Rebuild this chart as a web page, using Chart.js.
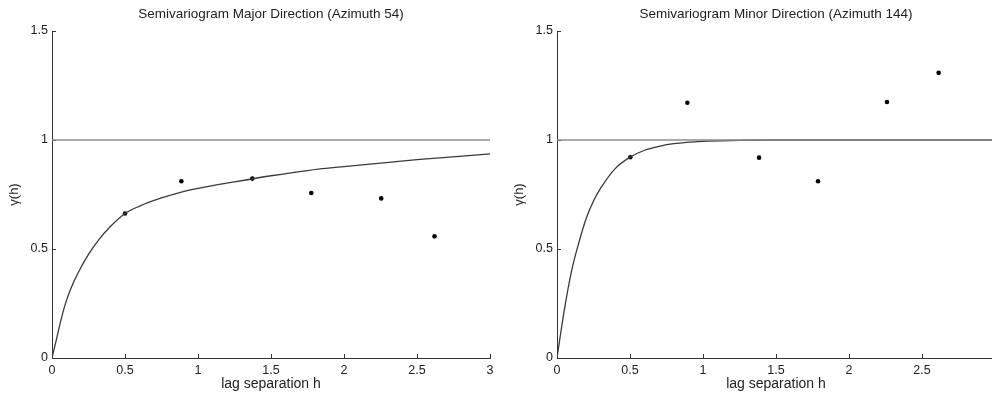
<!DOCTYPE html>
<html>
<head>
<meta charset="utf-8">
<script src="https://cdn.jsdelivr.net/npm/chart.js@4/dist/chart.umd.min.js"></script>
<style>
  html, body { margin: 0; padding: 0; background: #fff; overflow: hidden; }
  #wrap { position: relative; width: 992px; height: 398px; overflow: hidden; }
  canvas { position: absolute; top: 0; }
  #majorChart { left: 0; }
  #minorChart { left: 505px; }
</style>
</head>
<body>
<div id="wrap">
  <canvas id="majorChart" width="496" height="398"></canvas>
  <canvas id="minorChart" width="496" height="398"></canvas>
</div>
<script>
// experimental semivariogram points
const lagMajor = [0.5, 0.886, 1.372, 1.776, 2.255, 2.62];
const gammaMajor = [0.663, 0.811, 0.823, 0.757, 0.732, 0.558];
const lagMinor = [0.502, 0.893, 1.384, 1.788, 2.26, 2.614];
const gammaMinor = [0.921, 1.171, 0.919, 0.811, 1.174, 1.308];

// fitted model curves
const modelLagMajor = [0, 0.03, 0.06, 0.09, 0.13, 0.18, 0.25, 0.32, 0.4, 0.5, 0.6, 0.75, 0.88, 1, 1.25, 1.5, 1.75, 2, 2.5, 3];
const modelGammaMajor = [0, 0.084, 0.17, 0.245, 0.32, 0.392, 0.475, 0.542, 0.603, 0.663, 0.697, 0.734, 0.76, 0.778, 0.808, 0.836, 0.86, 0.878, 0.91, 0.936];
const modelLagMinor = [0, 0.05, 0.1, 0.15, 0.2, 0.25, 0.3, 0.4, 0.5, 0.6, 0.7, 0.8, 1, 1.25, 1.5, 2, 3];
const modelGammaMinor = [0, 0.22, 0.40, 0.53, 0.64, 0.72, 0.78, 0.87, 0.921, 0.953, 0.971, 0.983, 0.994, 0.998, 1, 1, 1];

// sill line
const sillLag = [0, 3];
const sillGamma = [1, 1];

// axis ticks
const xTicks = [0, 0.5, 1, 1.5, 2, 2.5, 3];
const yTicks = [0, 0.5, 1, 1.5];

Chart.defaults.font.family = '"Liberation Sans", Arial, Helvetica, sans-serif';
Chart.defaults.color = '#222';

const pts = (xs, ys) => xs.map((x, i) => ({ x: x, y: ys[i] }));

function drawVariogram(id, title, lags, gammas, modelLags, modelGammas) {
    const ctx = document.getElementById(id).getContext('2d');
    return new Chart(ctx, {
        type: 'scatter',
        data: {
            datasets: [
                {
                    data: pts(sillLag, sillGamma),
                    showLine: true,
                    borderColor: '#8c8c8c',
                    borderWidth: 1.5,
                    pointRadius: 0
                },
                {
                    data: pts(modelLags, modelGammas),
                    showLine: true,
                    borderColor: '#3a3a3a',
                    borderWidth: 1.3,
                    pointRadius: 0,
                    cubicInterpolationMode: 'monotone'
                },
                {
                    data: pts(lags, gammas),
                    showLine: false,
                    pointRadius: 2.3,
                    pointBackgroundColor: '#000',
                    pointBorderWidth: 0
                }
            ]
        },
        options: {
            responsive: false,
            animation: false,
            layout: { padding: { left: 0, right: 6, top: 0, bottom: 0 } },
            plugins: {
                legend: { display: false },
                tooltip: { enabled: false },
                title: {
                    display: true,
                    text: title,
                    fullSize: false,
                    color: '#222',
                    font: { size: 13.5, weight: 'normal' },
                    padding: { top: 6, bottom: 8.8 }
                }
            },
            scales: {
                x: {
                    type: 'linear',
                    min: 0, max: 3,
                    afterBuildTicks: s => { s.ticks = xTicks.map(v => ({ value: v })); },
                    afterFit: s => { s.height = 40; s.paddingLeft = 0; s.paddingRight = 0; },
                    grid: { drawOnChartArea: false, tickLength: -4, color: '#333' },
                    border: { color: '#333', width: 1 },
                    ticks: { padding: 9, font: { size: 12.5 }, color: '#222', maxRotation: 0, callback: v => String(v) },
                    title: { display: true, text: 'lag separation h', font: { size: 14 }, color: '#222', padding: { top: 0, bottom: 5 } }
                },
                y: {
                    type: 'linear',
                    min: 0, max: 1.5,
                    afterBuildTicks: s => { s.ticks = yTicks.map(v => ({ value: v })); },
                    afterFit: s => { s.width = 52; s.paddingTop = 0; s.paddingBottom = 0; },
                    grid: { drawOnChartArea: false, tickLength: -4, color: '#333' },
                    border: { color: '#333', width: 1 },
                    ticks: { padding: 8, font: { size: 12.5 }, color: '#222', callback: v => String(v) },
                    title: { display: true, text: 'γ(h)', font: { size: 13 }, color: '#222', padding: { top: 6.7, bottom: 0 } }
                }
            }
        }
    });
}

drawVariogram('majorChart', 'Semivariogram Major Direction (Azimuth 54)', lagMajor, gammaMajor, modelLagMajor, modelGammaMajor);
drawVariogram('minorChart', 'Semivariogram Minor Direction (Azimuth 144)', lagMinor, gammaMinor, modelLagMinor, modelGammaMinor);
</script>
</body>
</html>
